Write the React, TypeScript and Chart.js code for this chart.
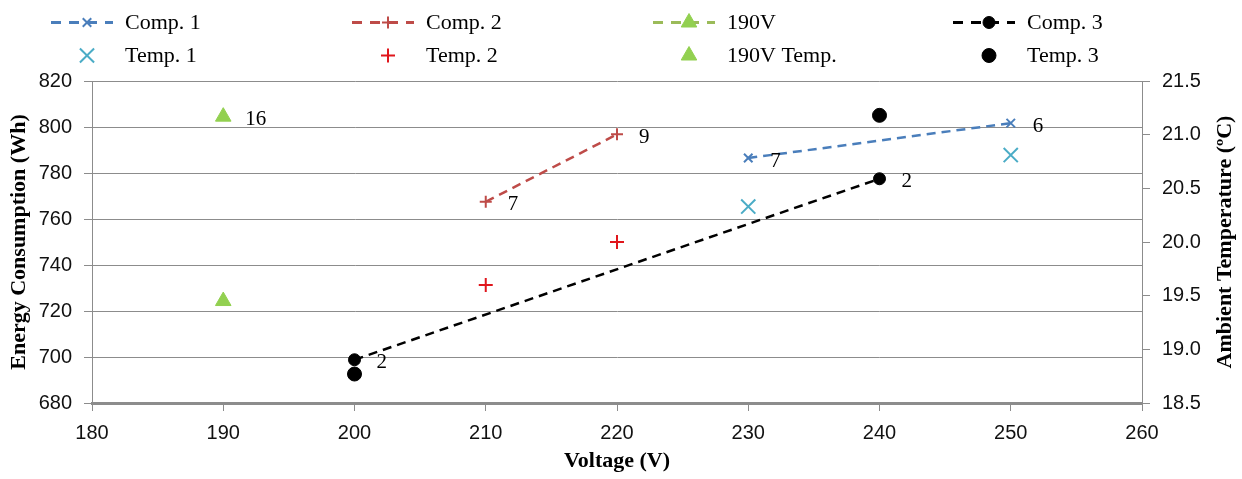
import React, { useEffect, useRef } from 'react';
import { Chart, registerables } from 'chart.js';
import { drawPoint } from 'chart.js/helpers';

Chart.register(...registerables);

// ---------- data ----------
const seriesNames = ['Comp. 1', 'Temp. 1', 'Comp. 2', 'Temp. 2', '190V', '190V Temp.', 'Comp. 3', 'Temp. 3'];

const voltage1 = [230, 250];
const energy1 = [786.5, 801.7];
const labels1 = ['7', '6'];
const temp1 = [20.33, 20.81];

const voltage2 = [210, 220];
const energy2 = [767.5, 796.8];
const labels2 = ['7', '9'];
const temp2 = [19.6, 20.0];

const voltage190 = [190];
const energy190 = [804.5];
const labels190 = ['16'];
const temp190 = [19.45];

const voltage3 = [200, 240];
const energy3 = [698.8, 777.5];
const labels3 = ['2', '2'];
const temp3 = [18.77, 21.18];

const xTitle = 'Voltage (V)';
const yTitle = 'Energy Consumption (Wh)';
const y1Title = 'Ambient Temperature (ºC)';

const pts = (xs: number[], ys: number[]) => xs.map((x, i) => ({ x, y: ys[i] }));

const GRID = '#8c8c8c';
const TICK_FONT = { family: 'Liberation Sans', size: 20 };
const TITLE_FONT = { family: 'Liberation Serif', size: 22, weight: 'bold' as const };

const legendTextX = [125, 426, 727, 1027];
const legendRowY = [22.5, 55.5];

const legendPlugin = {
  id: 'customLegend',
  afterDraw(chart: any) {
    const ctx = chart.ctx;
    chart.data.datasets.forEach((ds: any, i: number) => {
      const col = Math.floor(i / 2);
      const row = i % 2;
      const tx = legendTextX[col];
      const y = legendRowY[row];
      const x0 = tx - 74;
      const x1 = tx - 12;
      const mx = tx - 38;
      ctx.save();
      if (ds.showLine !== false) {
        ctx.strokeStyle = ds.borderColor;
        ctx.lineWidth = 3;
        ctx.setLineDash([10, 8]);
        ctx.beginPath();
        ctx.moveTo(x0, y);
        ctx.lineTo(x1, y);
        ctx.stroke();
        ctx.setLineDash([]);
      }
      ctx.fillStyle = ds.pointBackgroundColor;
      ctx.strokeStyle = ds.pointBorderColor;
      ctx.lineWidth = ds.pointBorderWidth;
      drawPoint(ctx, { pointStyle: ds.pointStyle, radius: ds.pointRadius, borderWidth: ds.pointBorderWidth, rotation: 0 }, mx, y);
      ctx.fillStyle = '#000';
      ctx.font = '22px "Liberation Serif"';
      ctx.textAlign = 'left';
      ctx.textBaseline = 'middle';
      ctx.fillText(ds.label, tx, y + 1);
      ctx.restore();
    });
  },
};

const dataLabelPlugin = {
  id: 'pointLabels',
  afterDatasetsDraw(chart: any) {
    const ctx = chart.ctx;
    chart.data.datasets.forEach((ds: any, i: number) => {
      if (!ds.dataLabels) return;
      const meta = chart.getDatasetMeta(i);
      meta.data.forEach((el: any, j: number) => {
        ctx.save();
        ctx.fillStyle = '#000';
        ctx.font = '21px "Liberation Serif"';
        ctx.textAlign = 'left';
        ctx.textBaseline = 'middle';
        ctx.fillText(ds.dataLabels[j], el.x + 22, el.y + 3);
        ctx.restore();
      });
    });
  },
};

const rightTitlePlugin = {
  id: 'rightTitle',
  afterDraw(chart: any) {
    const ctx = chart.ctx;
    const { top, bottom } = chart.chartArea;
    ctx.save();
    ctx.translate(chart.width - 17, (top + bottom) / 2);
    ctx.rotate(-Math.PI / 2);
    ctx.fillStyle = '#000';
    ctx.font = 'bold 22px "Liberation Serif"';
    ctx.textAlign = 'center';
    ctx.textBaseline = 'middle';
    ctx.fillText(y1Title, 0, 0);
    ctx.restore();
  },
};

export default function App() {
  const ref = useRef<HTMLCanvasElement | null>(null);

  useEffect(() => {
    if (!ref.current) return;
    const dash = [9, 6];
    const chart = new Chart(ref.current, {
      type: 'line',
      data: {
        datasets: [
          {
            label: seriesNames[0], data: pts(voltage1, energy1), yAxisID: 'y', showLine: true,
            borderColor: '#4A7EBB', borderWidth: 2.5, borderDash: dash,
            pointStyle: 'crossRot', pointRadius: 6, pointBorderWidth: 2,
            pointBackgroundColor: '#4A7EBB', pointBorderColor: '#4A7EBB', dataLabels: labels1,
          } as any,
          {
            label: seriesNames[1], data: pts(voltage1, temp1), yAxisID: 'y1', showLine: false,
            borderColor: '#4BACC6',
            pointStyle: 'crossRot', pointRadius: 10, pointBorderWidth: 2,
            pointBackgroundColor: '#4BACC6', pointBorderColor: '#4BACC6',
          },
          {
            label: seriesNames[2], data: pts(voltage2, energy2), yAxisID: 'y', showLine: true,
            borderColor: '#BE4B48', borderWidth: 2.5, borderDash: dash,
            pointStyle: 'cross', pointRadius: 6, pointBorderWidth: 2,
            pointBackgroundColor: '#BE4B48', pointBorderColor: '#BE4B48', dataLabels: labels2,
          } as any,
          {
            label: seriesNames[3], data: pts(voltage2, temp2), yAxisID: 'y1', showLine: false,
            borderColor: '#E0161C',
            pointStyle: 'cross', pointRadius: 7, pointBorderWidth: 2,
            pointBackgroundColor: '#E0161C', pointBorderColor: '#E0161C',
          },
          {
            label: seriesNames[4], data: pts(voltage190, energy190), yAxisID: 'y', showLine: true,
            borderColor: '#9BBB59', borderWidth: 2.5, borderDash: dash,
            pointStyle: 'triangle', pointRadius: 9, pointBorderWidth: 1,
            pointBackgroundColor: '#92D050', pointBorderColor: '#92D050', dataLabels: labels190,
          } as any,
          {
            label: seriesNames[5], data: pts(voltage190, temp190), yAxisID: 'y1', showLine: false,
            borderColor: '#92D050',
            pointStyle: 'triangle', pointRadius: 9, pointBorderWidth: 1,
            pointBackgroundColor: '#92D050', pointBorderColor: '#92D050',
          },
          {
            label: seriesNames[6], data: pts(voltage3, energy3), yAxisID: 'y', showLine: true,
            borderColor: '#000000', borderWidth: 2.5, borderDash: dash,
            pointStyle: 'circle', pointRadius: 6, pointBorderWidth: 1,
            pointBackgroundColor: '#000000', pointBorderColor: '#000000', dataLabels: labels3,
          } as any,
          {
            label: seriesNames[7], data: pts(voltage3, temp3), yAxisID: 'y1', showLine: false,
            borderColor: '#000000',
            pointStyle: 'circle', pointRadius: 7, pointBorderWidth: 1,
            pointBackgroundColor: '#000000', pointBorderColor: '#000000',
          },
        ],
      },
      options: {
        animation: false,
        responsive: false,
        devicePixelRatio: 1,
        layout: { padding: { top: 81, left: 0, right: 0, bottom: 0 } },
        plugins: { legend: { display: false }, tooltip: { enabled: false } },
        scales: {
          x: {
            type: 'linear', min: 180, max: 260,
            ticks: { stepSize: 10, padding: 10, font: TICK_FONT, color: '#111' },
            grid: { drawOnChartArea: false, drawTicks: true, tickLength: 8, color: GRID },
            border: { color: GRID, width: 3 },
            title: { display: true, text: xTitle, font: TITLE_FONT, color: '#000', padding: { top: 0, bottom: 4 } },
            afterFit: (s: any) => { s.height = 76; },
          },
          y: {
            type: 'linear', position: 'left', min: 680, max: 820,
            ticks: { stepSize: 20, padding: 12, font: TICK_FONT, color: '#111' },
            grid: { color: GRID, tickLength: 8, lineWidth: 1 },
            border: { color: GRID, width: 1 },
            title: { display: true, text: yTitle, font: TITLE_FONT, color: '#000', padding: { top: 6, bottom: 0 } },
            afterFit: (s: any) => { s.width = 92; },
          },
          y1: {
            type: 'linear', position: 'right', min: 18.5, max: 21.5,
            ticks: { stepSize: 0.5, padding: 12, font: TICK_FONT, color: '#111', callback: (v: any) => Number(v).toFixed(1) },
            grid: { drawOnChartArea: false, tickLength: 8, color: GRID },
            border: { color: GRID, width: 1 },
            afterFit: (s: any) => { s.width = 100; },
          },
        },
      } as any,
      plugins: [dataLabelPlugin, legendPlugin, rightTitlePlugin],
    });
    return () => chart.destroy();
  }, []);

  return (
    <div style={{ position: 'absolute', left: 0, top: 0, width: 1242, height: 479, background: '#fff' }}>
      <canvas ref={ref} width={1242} height={479} style={{ display: 'block', width: 1242, height: 479 }} />
    </div>
  );
}
